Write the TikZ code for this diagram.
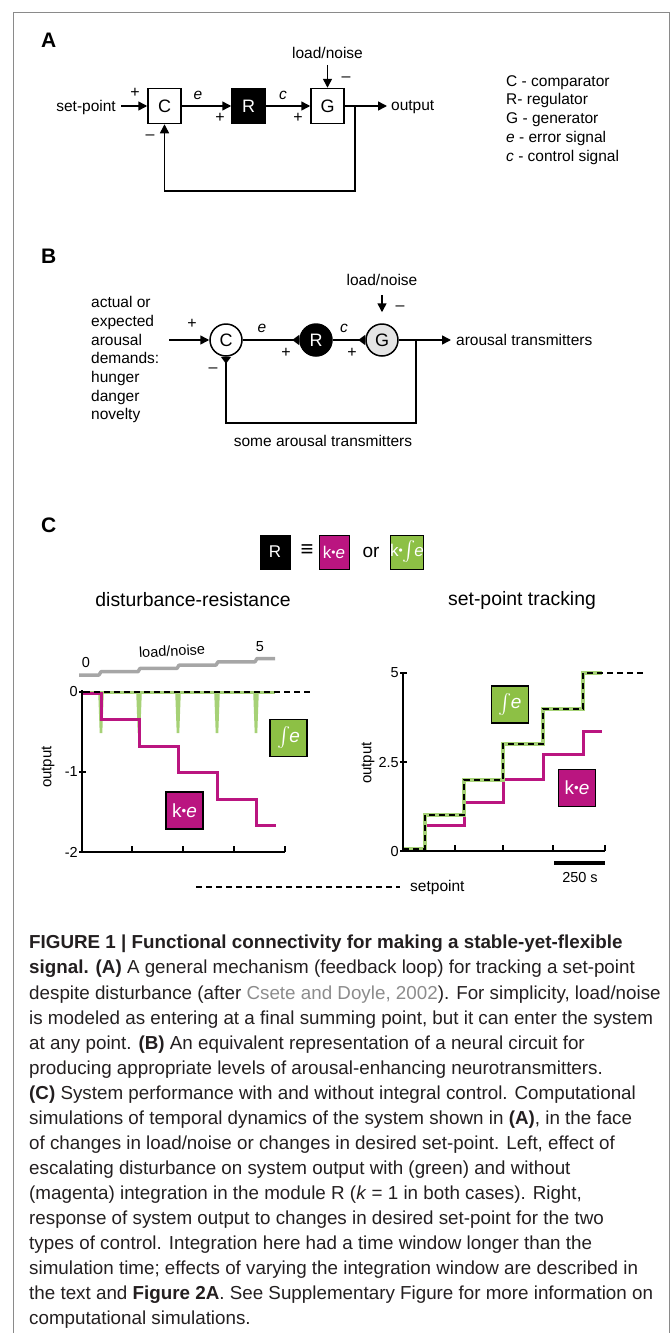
\documentclass[tikz,border=0pt]{standalone}
\usepackage{fontspec}
\usepackage{exscale}
\setmainfont{Liberation Sans}
\usetikzlibrary{arrows.meta}
\definecolor{mag}{HTML}{BA1580}
\definecolor{grn}{HTML}{8DC045}
\definecolor{lgrn}{HTML}{A6D176}
\definecolor{framec}{HTML}{8A8A8A}
\definecolor{gcirc}{HTML}{E4E4E4}
\definecolor{captxt}{HTML}{231F20}
\definecolor{refc}{HTML}{8C8C8C}
\newcommand{\myfs}[1]{\fontsize{#1}{#1}\selectfont}
\newcommand{\myint}{\raisebox{-0.05em}{\scalebox{1.15}{$\color{white}\int$}}}
\newcommand{\mydot}{\raisebox{0.1em}{\scalebox{0.7}{•}}}
\tikzset{
  lbl/.style={font=\myfs{15.5}, inner sep=0pt},
  plbl/.style={font=\myfs{14.5}, inner sep=0pt},
  sgn/.style={font=\myfs{16}, inner sep=0pt},
  panel/.style={font=\bfseries\myfs{21}, inner sep=0pt, anchor=base west},
  blk/.style={draw, line width=1.5pt, minimum width=33pt, minimum height=35pt, inner sep=0pt, font=\myfs{18}},
  circ/.style={circle, draw, line width=1.5pt, minimum size=32pt, inner sep=0pt, font=\myfs{18}},
  con/.style={line width=1.5pt, -{Triangle[length=9pt,width=9pt]}},
  syn/.style={line width=1.5pt, -{Triangle[reversed,length=7pt,width=10pt]}},
  pbox/.style={draw=black, line width=1.5pt, minimum width=37pt, minimum height=37pt, inner sep=0pt, text=white, font=\myfs{19}},
  sbox/.style={draw=black, line width=1pt, minimum width=30pt, minimum height=34pt, inner sep=0pt, text=white, font=\myfs{17}},
  axis/.style={line width=1.5pt},
  dsh/.style={line width=1.5pt, dash pattern=on 6pt off 4pt},
  capl/.style={font=\myfs{18.8}, text=captxt, inner sep=0pt, anchor=base west},
}
\begin{document}
\begin{tikzpicture}[x=1pt,y=-1pt]
\useasboundingbox (0,0) rectangle (671,1333);
% frame
\draw[framec, line width=1.5pt] (13.5,1340) -- (13.5,12.5) -- (669.5,12.5) -- (669.5,1340);

% ---------------- Panel A ----------------
\node[panel] (pA) at (41,47) {A};
\node[blk] (Ca) at (164.5,106) {C};
\node[blk, fill=black, text=white] (Ra) at (248.5,106) {R};
\node[blk] (Ga) at (327.5,106) {G};
\node[lbl, anchor=east] (spa) at (116,107) {set-point};
\draw[con] ([xshift=5pt]spa.east |- Ca.west) -- (Ca.west);
\draw[con] (Ca.east) -- (Ra.west);
\draw[con] (Ra.east) -- (Ga.west);
\node[lbl] (lna) at (327.5,53) {load/noise};
\draw[con] ([yshift=-6pt]lna.south) -- (Ga.north);
\node[lbl, anchor=west] (outa) at (391,107) {output};
\draw[con] (Ga.east) -- ([xshift=-4pt]outa.west |- Ga.east);
\coordinate (fa1) at (355,106);
\coordinate (fa2) at (355,191);
\draw[con] (fa1) -- (fa2) -| (Ca.south);
\node[sgn] (pa1) at (135,93) {+};
\node[sgn] (ma1) at (150,137) {–};
\node[lbl, font=\itshape\myfs{15.5}] (ea) at (198,95) {e};
\node[sgn] (pa2) at (220,118) {+};
\node[lbl, font=\itshape\myfs{15.5}] (ca) at (283,95) {c};
\node[sgn] (pa3) at (298,118) {+};
\node[sgn] (ma2) at (346,79) {–};
% legend
\node[lbl, anchor=base west] (lg1) at (506,86) {C - comparator};
\node[lbl, anchor=base west] (lg2) at (506,104) {R- regulator};
\node[lbl, anchor=base west] (lg3) at (506,123) {G - generator};
\node[lbl, anchor=base west] (lg4) at (506,142) {\textit{e} - error signal};
\node[lbl, anchor=base west] (lg5) at (506,161) {\textit{c} - control signal};

% ---------------- Panel B ----------------
\node[panel] (pB) at (41,263) {B};
\node[circ] (Cb) at (226,340) {C};
\node[circ, fill=black, text=white] (Rb) at (316,340) {R};
\node[circ, fill=gcirc] (Gb) at (382,340) {G};
\coordinate (inb) at (169,340);
\draw[con] (inb) -- (Cb.west);
\draw[syn] (Cb.east) -- (Rb.west);
\draw[syn] (Rb.east) -- (Gb.west);
\node[lbl] (lnb) at (382,280) {load/noise};
\draw[con] ([yshift=-9pt]lnb.south) -- ([yshift=11pt]Gb.north);
\node[lbl, anchor=west] (outb) at (456,340) {arousal transmitters};
\draw[con] (Gb.east) -- ([xshift=-5pt]outb.west |- Gb.east);
\coordinate (fb1) at (416,340);
\coordinate (fb2) at (416,423);
\draw[syn] (fb1) -- (fb2) -| (Cb.south);
\node[lbl] (sat) at (323,441) {some arousal transmitters};
\node[sgn] (pb1) at (192,324) {+};
\node[lbl, font=\itshape\myfs{15.5}] (eb) at (262,328) {e};
\node[sgn] (pb2) at (286,353) {+};
\node[lbl, font=\itshape\myfs{15.5}] (cb) at (344,328) {c};
\node[sgn] (pb3) at (352,353) {+};
\node[sgn] (mb1) at (400,308) {–};
\node[sgn] (mb2) at (213,370) {–};
\foreach \t/\yy [count=\i] in {actual or/302, expected/321, arousal/339.5, demands:/358, hunger/377, danger/396, novelty/414}
  \node[lbl, anchor=base west] (dem\i) at (91,\yy+5.5) {\t};

% ---------------- Panel C ----------------
\node[panel] (pC) at (41,532) {C};
\node[sbox, fill=black, draw=black] (Rc) at (275,552) {R};
\node[lbl, font=\myfs{22}] (eqv) at (307,551) {≡};
\node[sbox, fill=mag] (kec) at (334,552) {k\mydot\textit{e}};
\node[lbl, font=\myfs{19}] (orc) at (371,552) {or};
\node[sbox, fill=grn] (kic) at (407,552) {k\mydot\kern-0.5pt\myint\kern-1pt\textit{e}};
\node[lbl, font=\myfs{19.4}] (t1) at (193,600) {disturbance-resistance};
\node[lbl, font=\myfs{19.4}] (t2) at (522,600) {set-point tracking};

% left plot
\draw[line width=3.5pt, color=gray!70, line join=round]
  (79,675) -- (99,675) -- (101,671.7) -- (138,671.7) -- (140,668.4) -- (177,668.4) -- (179,665.1)
  -- (216,665.1) -- (218,661.8) -- (255,661.8) -- (257,658.5) -- (275,658.5);
\node[plbl] (l0) at (86,663) {0};
\node[plbl] (l5) at (260,647) {5};
\node[plbl, rotate=3] (lln) at (172,651) {load/noise};
\draw[line width=3pt, lgrn] (82,692) -- (275,692);
\foreach \x in {101,139,178,217,256}
  \fill[lgrn] (\x-2.8,692) -- (\x+2.8,692) -- (\x+1.3,733) -- (\x-1.3,733) -- cycle;
\draw[line width=3pt, mag] (82,693) -- (101,693) -- (101,719.5) -- (139,719.5) -- (139,746) -- (178,746)
  -- (178,772.5) -- (217,772.5) -- (217,799) -- (256,799) -- (256,825.5) -- (276,825.5);
\draw[dsh] (84,692) -- (313,692);
\draw[axis] (82,690) -- (82,852) -- (285,852);
\foreach \x in {132,183,234,285} \draw[axis] (\x,852) -- (\x,846);
\foreach \y/\l in {692/0,772/-1,852/-2} {
  \draw[axis] (79,\y) -- (86,\y);
  \node[plbl, anchor=east] at (78,\y) {\l};
}
\node[plbl, rotate=90, font=\myfs{15}] (ylab1) at (48,767) {output};
\node[pbox, fill=grn] (bi1) at (288.5,738) {\myint\kern-1pt\textit{e}};
\node[pbox, fill=mag] (bk1) at (184.5,810.5) {k\mydot\textit{e}};

% right plot
\draw[line width=3pt, mag] (403,848) -- (425,848) -- (425,825) -- (464,825) -- (464,802) -- (503,802)
  -- (503,779) -- (543,779) -- (543,754) -- (583,754) -- (583,731) -- (602,731);
\draw[line width=4pt, lgrn] (403,849) -- (425,849) -- (425,815) -- (464,815) -- (464,780) -- (503,780)
  -- (503,744) -- (543,744) -- (543,709) -- (583,709) -- (583,673) -- (602,673);
\draw[dsh] (403,849) -- (425,849) -- (425,815) -- (464,815) -- (464,780) -- (503,780)
  -- (503,744) -- (543,744) -- (543,709) -- (583,709) -- (583,673) -- (645,673);
\draw[axis] (403,673) -- (403,851) -- (605,851);
\foreach \x in {455,503,553,605} \draw[axis] (\x,851) -- (\x,845);
\foreach \y/\l in {673/5,762/2.5,851/0} {
  \draw[axis] (400,\y) -- (407,\y);
  \node[plbl] [anchor=east] at (399,\y) {\l};
}
\node[plbl, rotate=90, font=\myfs{15}] (ylab2) at (368,763) {output};
\node[pbox, fill=grn] (bi2) at (510,704.5) {\myint\kern-1pt\textit{e}};
\node[pbox, fill=mag] (bk2) at (577,788) {k\mydot\textit{e}};
\coordinate (sb1) at (554,863);
\coordinate (sb2) at (605,863);
\draw[line width=3.5pt] (sb1) -- (sb2);
\node[plbl] (sbl) at (580,877) {250 s};

% setpoint legend
\node[lbl, anchor=west] (spl) at (410,887) {setpoint};
\coordinate (spd) at (196,887);
\draw[dsh] (spd) -- ([xshift=-10pt]spl.west |- spd);

% ---------------- Caption ----------------
\node[capl] (c1) at (29,948.5) {\bfseries FIGURE 1 | Functional connectivity for making a stable-yet-flexible};
\node[capl] (c2) at (29,973.5) {\textbf{signal. (A)} A general mechanism (feedback loop) for tracking a set-point};
\node[capl] (c3) at (29,999) {despite disturbance (after \textcolor{refc}{Csete and Doyle, 2002}). For simplicity, load/noise};
\node[capl] (c4) at (29,1024) {is modeled as entering at a final summing point, but it can enter the system};
\node[capl] (c5) at (29,1049) {at any point. \textbf{(B)} An equivalent representation of a neural circuit for};
\node[capl] (c6) at (29,1074) {producing appropriate levels of arousal-enhancing neurotransmitters.};
\node[capl] (c7) at (29,1099) {\textbf{(C)} System performance with and without integral control. Computational};
\node[capl] (c8) at (29,1124) {simulations of temporal dynamics of the system shown in \textbf{(A)}, in the face};
\node[capl] (c9) at (29,1149) {of changes in load/noise or changes in desired set-point. Left, effect of};
\node[capl] (c10) at (29,1174) {escalating disturbance on system output with (green) and without};
\node[capl] (c11) at (29,1199) {(magenta) integration in the module R (\textit{k} = 1 in both cases). Right,};
\node[capl] (c12) at (29,1224) {response of system output to changes in desired set-point for the two};
\node[capl] (c13) at (29,1249) {types of control. Integration here had a time window longer than the};
\node[capl] (c14) at (29,1274) {simulation time; effects of varying the integration window are described in};
\node[capl] (c15) at (29,1299) {the text and \textbf{Figure 2A}. See Supplementary Figure for more information on};
\node[capl] (c16) at (29,1324) {computational simulations.};
\end{tikzpicture}
\end{document}
